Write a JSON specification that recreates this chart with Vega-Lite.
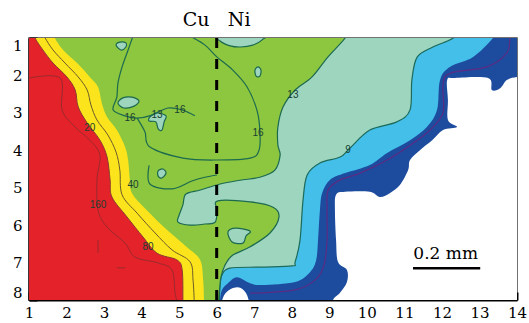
{
"$schema": "https://vega.github.io/schema/vega-lite/v6.json",
"width": 488, "height": 262,
"autosize": {"type": "none"},
"padding": {"left": 29, "top": 38, "right": 12, "bottom": 23},
"datasets": {
"poly": [
{"s":"dark","i":0,"x":0.6,"y":0.6},{"s":"dark","i":1,"x":14.4,"y":0.6},{"s":"dark","i":2,"x":14.4,"y":8.4},{"s":"dark","i":3,"x":0.6,"y":8.4},

{"s":"white","i":0,"x":12.14,"y":2.12},{"s":"white","i":1,"x":12.35,"y":2.07},{"s":"white","i":2,"x":13.23,"y":2.07},{"s":"white","i":3,"x":13.33,"y":2.39},{"s":"white","i":4,"x":13.55,"y":2.34},{"s":"white","i":5,"x":13.73,"y":2.12},{"s":"white","i":6,"x":14.0,"y":2.04},{"s":"white","i":7,"x":14.4,"y":2.02},{"s":"white","i":8,"x":14.4,"y":8.4},{"s":"white","i":9,"x":9.05,"y":8.4},{"s":"white","i":10,"x":9.1,"y":8.0},{"s":"white","i":11,"x":9.28,"y":7.81},{"s":"white","i":12,"x":9.47,"y":7.52},{"s":"white","i":13,"x":9.47,"y":7.2},{"s":"white","i":14,"x":9.23,"y":6.98},{"s":"white","i":15,"x":9.18,"y":6.4},{"s":"white","i":16,"x":9.15,"y":5.6},{"s":"white","i":17,"x":9.18,"y":5.19},{"s":"white","i":18,"x":9.42,"y":5.11},{"s":"white","i":19,"x":10.08,"y":5.11},{"s":"white","i":20,"x":10.35,"y":5.25},{"s":"white","i":21,"x":10.62,"y":5.14},{"s":"white","i":22,"x":10.88,"y":4.93},{"s":"white","i":23,"x":11.1,"y":4.53},{"s":"white","i":24,"x":11.15,"y":4.26},{"s":"white","i":25,"x":11.42,"y":3.99},{"s":"white","i":26,"x":11.74,"y":3.73},{"s":"white","i":27,"x":12.03,"y":3.46},{"s":"white","i":28,"x":12.4,"y":3.38},{"s":"white","i":29,"x":12.16,"y":3.19},{"s":"white","i":30,"x":12.16,"y":2.66},

{"s":"lblue","i":0,"x":13.6,"y":0.6},{"s":"lblue","i":1,"x":13.36,"y":1.0},{"s":"lblue","i":2,"x":12.83,"y":1.51},{"s":"lblue","i":3,"x":12.22,"y":1.77},{"s":"lblue","i":4,"x":11.95,"y":2.12},{"s":"lblue","i":5,"x":11.87,"y":2.92},{"s":"lblue","i":6,"x":11.6,"y":3.38},{"s":"lblue","i":7,"x":11.15,"y":3.73},{"s":"lblue","i":8,"x":10.54,"y":4.07},{"s":"lblue","i":9,"x":10.08,"y":4.39},{"s":"lblue","i":10,"x":9.42,"y":4.61},{"s":"lblue","i":11,"x":9.02,"y":4.79},{"s":"lblue","i":12,"x":8.81,"y":5.14},{"s":"lblue","i":13,"x":8.75,"y":5.6},{"s":"lblue","i":14,"x":8.7,"y":6.4},{"s":"lblue","i":15,"x":8.65,"y":6.93},{"s":"lblue","i":16,"x":8.49,"y":7.25},{"s":"lblue","i":17,"x":8.09,"y":7.52},{"s":"lblue","i":18,"x":7.21,"y":7.6},{"s":"lblue","i":19,"x":6.89,"y":7.55},{"s":"lblue","i":20,"x":6.54,"y":7.39},{"s":"lblue","i":21,"x":6.3,"y":7.55},{"s":"lblue","i":22,"x":6.14,"y":7.73},{"s":"lblue","i":23,"x":6.09,"y":8.0},{"s":"lblue","i":24,"x":6.09,"y":8.4},{"s":"lblue","i":25,"x":0.6,"y":8.4},{"s":"lblue","i":26,"x":0.6,"y":0.6},

{"s":"teal","i":0,"x":12.6,"y":0.6},{"s":"teal","i":1,"x":12.3,"y":1.0},{"s":"teal","i":2,"x":11.76,"y":1.24},{"s":"teal","i":3,"x":11.34,"y":1.51},{"s":"teal","i":4,"x":11.2,"y":2.12},{"s":"teal","i":5,"x":11.15,"y":2.92},{"s":"teal","i":6,"x":10.8,"y":3.24},{"s":"teal","i":7,"x":10.08,"y":3.46},{"s":"teal","i":8,"x":9.55,"y":3.94},{"s":"teal","i":9,"x":9.29,"y":4.18},{"s":"teal","i":10,"x":8.75,"y":4.34},{"s":"teal","i":11,"x":8.41,"y":4.66},{"s":"teal","i":12,"x":8.3,"y":5.33},{"s":"teal","i":13,"x":8.22,"y":6.4},{"s":"teal","i":14,"x":8.09,"y":6.98},{"s":"teal","i":15,"x":8.01,"y":7.09},{"s":"teal","i":16,"x":7.15,"y":7.12},{"s":"teal","i":17,"x":6.35,"y":7.15},{"s":"teal","i":18,"x":6.14,"y":7.33},{"s":"teal","i":19,"x":6.09,"y":7.6},{"s":"teal","i":20,"x":6.07,"y":8.0},{"s":"teal","i":21,"x":6.07,"y":8.4},{"s":"teal","i":22,"x":0.6,"y":8.4},{"s":"teal","i":23,"x":0.6,"y":0.6},

{"s":"green","i":0,"x":9.6,"y":0.6},{"s":"green","i":1,"x":9.42,"y":1.0},{"s":"green","i":2,"x":8.96,"y":1.51},{"s":"green","i":3,"x":8.54,"y":2.04},{"s":"green","i":4,"x":8.09,"y":2.39},{"s":"green","i":5,"x":7.77,"y":2.84},{"s":"green","i":6,"x":7.63,"y":3.38},{"s":"green","i":7,"x":7.63,"y":3.86},{"s":"green","i":8,"x":7.69,"y":4.13},{"s":"green","i":9,"x":7.55,"y":4.53},{"s":"green","i":10,"x":7.15,"y":4.72},{"s":"green","i":11,"x":6.62,"y":4.8},{"s":"green","i":12,"x":6.09,"y":4.9},{"s":"green","i":13,"x":5.56,"y":5.06},{"s":"green","i":14,"x":5.18,"y":5.17},{"s":"green","i":15,"x":5.1,"y":5.46},{"s":"green","i":16,"x":5.0,"y":5.73},{"s":"green","i":17,"x":4.97,"y":5.92},{"s":"green","i":18,"x":5.29,"y":6.0},{"s":"green","i":19,"x":5.69,"y":5.97},{"s":"green","i":20,"x":5.96,"y":5.92},{"s":"green","i":21,"x":6.01,"y":5.6},{"s":"green","i":22,"x":6.03,"y":5.35},{"s":"green","i":23,"x":6.89,"y":5.38},{"s":"green","i":24,"x":7.5,"y":5.52},{"s":"green","i":25,"x":7.66,"y":5.78},{"s":"green","i":26,"x":7.42,"y":6.21},{"s":"green","i":27,"x":6.89,"y":6.58},{"s":"green","i":28,"x":6.43,"y":6.8},{"s":"green","i":29,"x":6.22,"y":7.07},{"s":"green","i":30,"x":6.11,"y":7.41},{"s":"green","i":31,"x":6.06,"y":8.0},{"s":"green","i":32,"x":6.06,"y":8.4},{"s":"green","i":33,"x":0.6,"y":8.4},{"s":"green","i":34,"x":0.6,"y":0.6},

{"s":"isl1","i":0,"x":5.95,"y":0.85},{"s":"isl1","i":1,"x":6.09,"y":1.08},{"s":"isl1","i":2,"x":6.36,"y":1.21},{"s":"isl1","i":3,"x":6.64,"y":1.24},{"s":"isl1","i":4,"x":6.96,"y":1.19},{"s":"isl1","i":5,"x":7.21,"y":1.05},{"s":"isl1","i":6,"x":7.32,"y":0.85},
{"s":"isl2","i":0,"x":3.32,"y":1.19},{"s":"isl2","i":1,"x":3.42,"y":1.11},{"s":"isl2","i":2,"x":3.58,"y":1.13},{"s":"isl2","i":3,"x":3.58,"y":1.24},{"s":"isl2","i":4,"x":3.45,"y":1.32},
{"s":"isl3","i":0,"x":3.37,"y":2.74},{"s":"isl3","i":1,"x":3.5,"y":2.6},{"s":"isl3","i":2,"x":3.74,"y":2.58},{"s":"isl3","i":3,"x":3.93,"y":2.68},{"s":"isl3","i":4,"x":3.8,"y":2.82},{"s":"isl3","i":5,"x":3.53,"y":2.87},
{"s":"isl4","i":0,"x":4.22,"y":3.11},{"s":"isl4","i":1,"x":4.41,"y":3.0},{"s":"isl4","i":2,"x":4.65,"y":3.08},{"s":"isl4","i":3,"x":4.6,"y":3.24},{"s":"isl4","i":4,"x":4.54,"y":3.46},{"s":"isl4","i":5,"x":4.44,"y":3.43},{"s":"isl4","i":6,"x":4.38,"y":3.24},{"s":"isl4","i":7,"x":4.2,"y":3.22},
{"s":"isl5","i":0,"x":7.02,"y":1.86},{"s":"isl5","i":1,"x":7.1,"y":1.77},{"s":"isl5","i":2,"x":7.18,"y":1.86},{"s":"isl5","i":3,"x":7.15,"y":2.02},{"s":"isl5","i":4,"x":7.05,"y":2.02},
{"s":"isl6","i":0,"x":4.44,"y":4.55},{"s":"isl6","i":1,"x":4.57,"y":4.5},{"s":"isl6","i":2,"x":4.65,"y":4.61},{"s":"isl6","i":3,"x":4.54,"y":4.74},{"s":"isl6","i":4,"x":4.44,"y":4.69},
{"s":"isl7","i":0,"x":6.3,"y":6.18},{"s":"isl7","i":1,"x":6.51,"y":6.08},{"s":"isl7","i":2,"x":6.89,"y":6.16},{"s":"isl7","i":3,"x":6.78,"y":6.29},{"s":"isl7","i":4,"x":6.7,"y":6.48},{"s":"isl7","i":5,"x":6.41,"y":6.45},

{"s":"yellow","i":0,"x":1.6,"y":0.7},{"s":"yellow","i":1,"x":1.69,"y":1.0},{"s":"yellow","i":2,"x":1.91,"y":1.32},{"s":"yellow","i":3,"x":2.28,"y":1.67},{"s":"yellow","i":4,"x":2.62,"y":2.04},{"s":"yellow","i":5,"x":2.84,"y":2.31},{"s":"yellow","i":6,"x":2.94,"y":2.74},{"s":"yellow","i":7,"x":3.08,"y":3.11},{"s":"yellow","i":8,"x":3.34,"y":3.46},{"s":"yellow","i":9,"x":3.56,"y":3.91},{"s":"yellow","i":10,"x":3.64,"y":4.26},{"s":"yellow","i":11,"x":3.68,"y":4.7},{"s":"yellow","i":12,"x":3.74,"y":5.14},{"s":"yellow","i":13,"x":4.14,"y":5.6},{"s":"yellow","i":14,"x":4.68,"y":6.13},{"s":"yellow","i":15,"x":5.21,"y":6.59},{"s":"yellow","i":16,"x":5.56,"y":6.93},{"s":"yellow","i":17,"x":5.64,"y":7.47},{"s":"yellow","i":18,"x":5.66,"y":8.0},{"s":"yellow","i":19,"x":5.66,"y":8.4},{"s":"yellow","i":20,"x":0.6,"y":8.4},{"s":"yellow","i":21,"x":0.6,"y":0.6},

{"s":"red","i":0,"x":1.05,"y":0.7},{"s":"red","i":1,"x":1.16,"y":1.0},{"s":"red","i":2,"x":1.37,"y":1.32},{"s":"red","i":3,"x":1.64,"y":1.67},{"s":"red","i":4,"x":2.01,"y":2.04},{"s":"red","i":5,"x":2.23,"y":2.39},{"s":"red","i":6,"x":2.31,"y":2.84},{"s":"red","i":7,"x":2.55,"y":3.27},{"s":"red","i":8,"x":2.89,"y":3.73},{"s":"red","i":9,"x":3.08,"y":4.18},{"s":"red","i":10,"x":3.16,"y":4.79},{"s":"red","i":11,"x":3.21,"y":5.25},{"s":"red","i":12,"x":3.61,"y":5.78},{"s":"red","i":13,"x":4.04,"y":6.32},{"s":"red","i":14,"x":4.41,"y":6.75},{"s":"red","i":15,"x":4.94,"y":6.93},{"s":"red","i":16,"x":5.08,"y":7.2},{"s":"red","i":17,"x":5.1,"y":8.0},{"s":"red","i":18,"x":5.1,"y":8.4},{"s":"red","i":19,"x":0.6,"y":8.4},{"s":"red","i":20,"x":0.6,"y":0.6},

{"s":"wbump","i":0,"x":6.12,"y":8.4},{"s":"wbump","i":1,"x":6.16,"y":7.96},{"s":"wbump","i":2,"x":6.32,"y":7.74},{"s":"wbump","i":3,"x":6.55,"y":7.66},{"s":"wbump","i":4,"x":6.72,"y":7.74},{"s":"wbump","i":5,"x":6.84,"y":7.96},{"s":"wbump","i":6,"x":6.88,"y":8.4}
],
"lines": [
{"s":"c40","i":0,"x":1.4,"y":0.9},{"s":"c40","i":1,"x":1.43,"y":1.0},{"s":"c40","i":2,"x":1.64,"y":1.32},{"s":"c40","i":3,"x":1.96,"y":1.67},{"s":"c40","i":4,"x":2.31,"y":2.04},{"s":"c40","i":5,"x":2.55,"y":2.39},{"s":"c40","i":6,"x":2.65,"y":2.79},{"s":"c40","i":7,"x":2.81,"y":3.19},{"s":"c40","i":8,"x":3.1,"y":3.59},{"s":"c40","i":9,"x":3.32,"y":4.05},{"s":"c40","i":10,"x":3.42,"y":4.53},{"s":"c40","i":11,"x":3.48,"y":5.19},{"s":"c40","i":12,"x":3.88,"y":5.68},{"s":"c40","i":13,"x":4.36,"y":6.21},{"s":"c40","i":14,"x":4.81,"y":6.66},{"s":"c40","i":15,"x":5.29,"y":6.98},{"s":"c40","i":16,"x":5.37,"y":7.47},{"s":"c40","i":17,"x":5.4,"y":8.0},
{"s":"c160","i":0,"x":1.0,"y":2.07},{"s":"c160","i":1,"x":1.83,"y":2.07},{"s":"c160","i":2,"x":1.88,"y":2.92},{"s":"c160","i":3,"x":2.23,"y":3.38},{"s":"c160","i":4,"x":2.62,"y":3.73},{"s":"c160","i":5,"x":2.89,"y":4.13},{"s":"c160","i":6,"x":2.81,"y":4.79},{"s":"c160","i":7,"x":2.84,"y":5.6},{"s":"c160","i":8,"x":3.08,"y":6.05},{"s":"c160","i":9,"x":3.56,"y":6.48},{"s":"c160","i":10,"x":3.82,"y":6.85},{"s":"c160","i":11,"x":4.44,"y":7.01},{"s":"c160","i":12,"x":4.81,"y":7.2},{"s":"c160","i":13,"x":4.89,"y":7.81},{"s":"c160","i":14,"x":4.94,"y":8.0},
{"s":"f1","i":0,"x":2.84,"y":6.4},{"s":"f1","i":1,"x":2.84,"y":6.74},
{"s":"f2","i":0,"x":3.34,"y":7.14},{"s":"f2","i":1,"x":3.56,"y":7.14},
{"s":"c16a","i":0,"x":5.29,"y":0.95},{"s":"c16a","i":1,"x":5.69,"y":1.19},{"s":"c16a","i":2,"x":6.01,"y":1.51},{"s":"c16a","i":3,"x":6.43,"y":1.86},{"s":"c16a","i":4,"x":6.81,"y":2.31},{"s":"c16a","i":5,"x":7.07,"y":2.92},{"s":"c16a","i":6,"x":7.15,"y":3.46},{"s":"c16a","i":7,"x":7.13,"y":3.99},{"s":"c16a","i":8,"x":6.89,"y":4.21},{"s":"c16a","i":9,"x":6.01,"y":4.26},{"s":"c16a","i":10,"x":5.1,"y":4.21},{"s":"c16a","i":11,"x":4.22,"y":3.91},{"s":"c16a","i":12,"x":4.09,"y":3.51},{"s":"c16a","i":13,"x":3.88,"y":3.14},
{"s":"c16c","i":0,"x":3.77,"y":0.95},{"s":"c16c","i":1,"x":3.64,"y":1.32},{"s":"c16c","i":2,"x":3.48,"y":1.77},{"s":"c16c","i":3,"x":3.37,"y":2.2},{"s":"c16c","i":4,"x":3.34,"y":2.58},{"s":"c16c","i":5,"x":3.24,"y":2.92},{"s":"c16c","i":6,"x":3.56,"y":3.08},{"s":"c16c","i":7,"x":3.88,"y":3.14},{"s":"c16c","i":8,"x":4.28,"y":3.06},{"s":"c16c","i":9,"x":4.7,"y":2.87},{"s":"c16c","i":10,"x":5.08,"y":2.92},{"s":"c16c","i":11,"x":5.42,"y":3.08},
{"s":"c16d","i":0,"x":4.2,"y":4.4},{"s":"c16d","i":1,"x":4.22,"y":4.9},{"s":"c16d","i":2,"x":4.81,"y":5.03},{"s":"c16d","i":3,"x":5.34,"y":4.82},{"s":"c16d","i":4,"x":5.69,"y":4.72},{"s":"c16d","i":5,"x":6.01,"y":4.66}
],
"purple": [
{"i":0,"x":13.85,"y":0.7},{"i":1,"x":13.81,"y":1.0},{"i":2,"x":13.73,"y":1.4},{"i":3,"x":13.2,"y":1.77},{"i":4,"x":12.22,"y":1.94},{"i":5,"x":12.03,"y":2.26},{"i":6,"x":12.03,"y":3.0},{"i":7,"x":11.68,"y":3.46},{"i":8,"x":11.23,"y":3.81},{"i":9,"x":10.54,"y":4.26},{"i":10,"x":9.82,"y":4.61},{"i":11,"x":9.29,"y":4.79},{"i":12,"x":8.97,"y":5.06},{"i":13,"x":8.94,"y":5.6},{"i":14,"x":8.94,"y":6.4},{"i":15,"x":8.86,"y":7.07},{"i":16,"x":8.62,"y":7.47},{"i":17,"x":8.09,"y":7.73},{"i":18,"x":7.15,"y":7.81},{"i":19,"x":6.89,"y":7.81}
],
"clabels": [
{"t":"20","x":2.62,"y":3.41},{"t":"40","x":3.77,"y":4.93},{"t":"80","x":4.17,"y":6.58},{"t":"160","x":2.84,"y":5.46},
{"t":"16","x":3.69,"y":3.14},{"t":"13","x":4.41,"y":3.05},{"t":"16","x":5.02,"y":2.92},{"t":"16","x":7.1,"y":3.54},{"t":"13","x":8.03,"y":2.52},{"t":"9","x":9.5,"y":3.99}
]
},
"encoding": {
"x": {"field": "x", "type": "quantitative", "title": null,
 "scale": {"domain": [1, 14], "nice": false, "zero": false},
 "axis": {"grid": false, "tickCount": 130, "labelOverlap": false, "labelFlush": false,
  "labelExpr": "abs(datum.value - round(datum.value)) < 0.001 ? '' + round(datum.value) : ''",
  "tickSize": {"condition": {"test": "abs(datum.value - round(datum.value)) < 0.001", "value": -8}, "value": -3},
  "tickWidth": {"condition": {"test": "abs(datum.value - round(datum.value)) < 0.001", "value": 2}, "value": 1},
  "tickColor": "black", "domainColor": "black", "domainWidth": 2,
  "labelFont": "DejaVu Serif", "labelFontSize": 15, "labelColor": "black", "labelPadding": 13}},
"y": {"field": "y", "type": "quantitative", "title": null,
 "scale": {"domain": [1, 8], "nice": false, "zero": false, "reverse": true},
 "axis": {"grid": false, "tickCount": 70, "labelOverlap": false, "labelFlush": true,
  "labelExpr": "abs(datum.value - round(datum.value)) < 0.001 ? '' + round(datum.value) : ''",
  "tickSize": {"condition": {"test": "abs(datum.value - round(datum.value)) < 0.001", "value": -8}, "value": -3},
  "tickWidth": {"condition": {"test": "abs(datum.value - round(datum.value)) < 0.001", "value": 2}, "value": 1},
  "tickColor": "black", "domainColor": "black", "domainWidth": 2,
  "labelFont": "DejaVu Serif", "labelFontSize": 15, "labelColor": "black", "labelPadding": 15}}
},
"layer": [
{"data": {"name": "poly"}, "transform": [{"filter": "datum.s === 'dark'"}], "mark": {"type": "line", "interpolate": "linear-closed", "filled": true, "fill": "#1d4c9f", "stroke": "#1d4c9f", "strokeWidth": 0, "clip": true}, "encoding": {"order": {"field": "i", "type": "quantitative"}}},
{"data": {"name": "poly"}, "transform": [{"filter": "datum.s === 'white'"}], "mark": {"type": "line", "interpolate": "cardinal-closed", "filled": true, "fill": "#ffffff", "stroke": "#ffffff", "strokeWidth": 0, "clip": true}, "encoding": {"order": {"field": "i", "type": "quantitative"}}},
{"data": {"name": "poly"}, "transform": [{"filter": "datum.s === 'lblue'"}], "mark": {"type": "line", "interpolate": "cardinal-closed", "filled": true, "fill": "#44bfea", "stroke": "#44bfea", "strokeWidth": 0, "clip": true}, "encoding": {"order": {"field": "i", "type": "quantitative"}}},
{"data": {"name": "poly"}, "transform": [{"filter": "datum.s === 'teal'"}], "mark": {"type": "line", "interpolate": "cardinal-closed", "filled": true, "fill": "#9dd5bf", "stroke": "#1c6a5a", "strokeWidth": 1.2, "clip": true}, "encoding": {"order": {"field": "i", "type": "quantitative"}}},
{"data": {"name": "poly"}, "transform": [{"filter": "datum.s === 'green'"}], "mark": {"type": "line", "interpolate": "cardinal-closed", "filled": true, "fill": "#8dc63f", "stroke": "#1c6a4f", "strokeWidth": 1.2, "clip": true}, "encoding": {"order": {"field": "i", "type": "quantitative"}}},
{"data": {"name": "poly"}, "transform": [{"filter": "indexof(datum.s, 'isl') === 0"}], "mark": {"type": "line", "interpolate": "cardinal-closed", "filled": true, "fill": "#9dd5bf", "stroke": "#1c6a4f", "strokeWidth": 1.2, "clip": true}, "encoding": {"detail": {"field": "s"}, "order": {"field": "i", "type": "quantitative"}}},
{"data": {"name": "lines"}, "transform": [{"filter": "indexof(datum.s, 'c16') === 0"}], "mark": {"type": "line", "interpolate": "cardinal", "stroke": "#1c6a4f", "strokeWidth": 1.2, "clip": true}, "encoding": {"detail": {"field": "s"}, "order": {"field": "i", "type": "quantitative"}}},
{"data": {"name": "poly"}, "transform": [{"filter": "datum.s === 'yellow'"}], "mark": {"type": "line", "interpolate": "cardinal-closed", "filled": true, "fill": "#fbe41c", "stroke": "#fbe41c", "strokeWidth": 0, "clip": true}, "encoding": {"order": {"field": "i", "type": "quantitative"}}},
{"data": {"name": "lines"}, "transform": [{"filter": "datum.s === 'c40'"}], "mark": {"type": "line", "interpolate": "cardinal", "stroke": "#6b5a2a", "strokeWidth": 1, "clip": true}, "encoding": {"order": {"field": "i", "type": "quantitative"}}},
{"data": {"name": "poly"}, "transform": [{"filter": "datum.s === 'red'"}], "mark": {"type": "line", "interpolate": "cardinal-closed", "filled": true, "fill": "#e3222a", "stroke": "#8a3a30", "strokeWidth": 1, "clip": true}, "encoding": {"order": {"field": "i", "type": "quantitative"}}},
{"data": {"name": "lines"}, "transform": [{"filter": "datum.s === 'c160' || datum.s === 'f1' || datum.s === 'f2'"}], "mark": {"type": "line", "interpolate": "cardinal", "stroke": "#9a2a2e", "strokeWidth": 1, "clip": true}, "encoding": {"detail": {"field": "s"}, "order": {"field": "i", "type": "quantitative"}}},
{"data": {"name": "poly"}, "transform": [{"filter": "datum.s === 'wbump'"}], "mark": {"type": "line", "interpolate": "cardinal-closed", "filled": true, "fill": "#ffffff", "stroke": "#ffffff", "strokeWidth": 0, "clip": true}, "encoding": {"order": {"field": "i", "type": "quantitative"}}},
{"data": {"name": "purple"}, "mark": {"type": "line", "interpolate": "cardinal", "stroke": "#5b2c83", "strokeWidth": 1.2, "clip": true}, "encoding": {"order": {"field": "i", "type": "quantitative"}}},
{"data": {"values": [{"x": 6, "y": 1, "y2": 8}]}, "mark": {"type": "rule", "color": "black", "strokeWidth": 3, "strokeDash": [10, 11]}, "encoding": {"y2": {"field": "y2"}}},
{"data": {"name": "clabels"}, "mark": {"type": "text", "font": "Liberation Sans", "fontSize": 10, "color": "#1a4030"}, "encoding": {"text": {"field": "t"}}},
{"data": {"values": [{"t": "Cu", "x": 5.45, "y": 0.52}, {"t": "Ni", "x": 6.6, "y": 0.52}]}, "mark": {"type": "text", "font": "DejaVu Serif", "fontSize": 19, "color": "black", "baseline": "middle"}, "encoding": {"text": {"field": "t"}}},
{"data": {"values": [{"x": 11.23, "x2": 13.02, "y": 7.15}]}, "mark": {"type": "rule", "color": "black", "strokeWidth": 2.5}, "encoding": {"x2": {"field": "x2"}}},
{"data": {"values": [{"t": "0.2 mm", "x": 12.1, "y": 6.77}]}, "mark": {"type": "text", "font": "DejaVu Serif", "fontSize": 17, "color": "black", "baseline": "middle"}, "encoding": {"text": {"field": "t"}}}
],
"config": {"view": {"stroke": "#444", "strokeWidth": 1.5}, "background": "white"}
}
